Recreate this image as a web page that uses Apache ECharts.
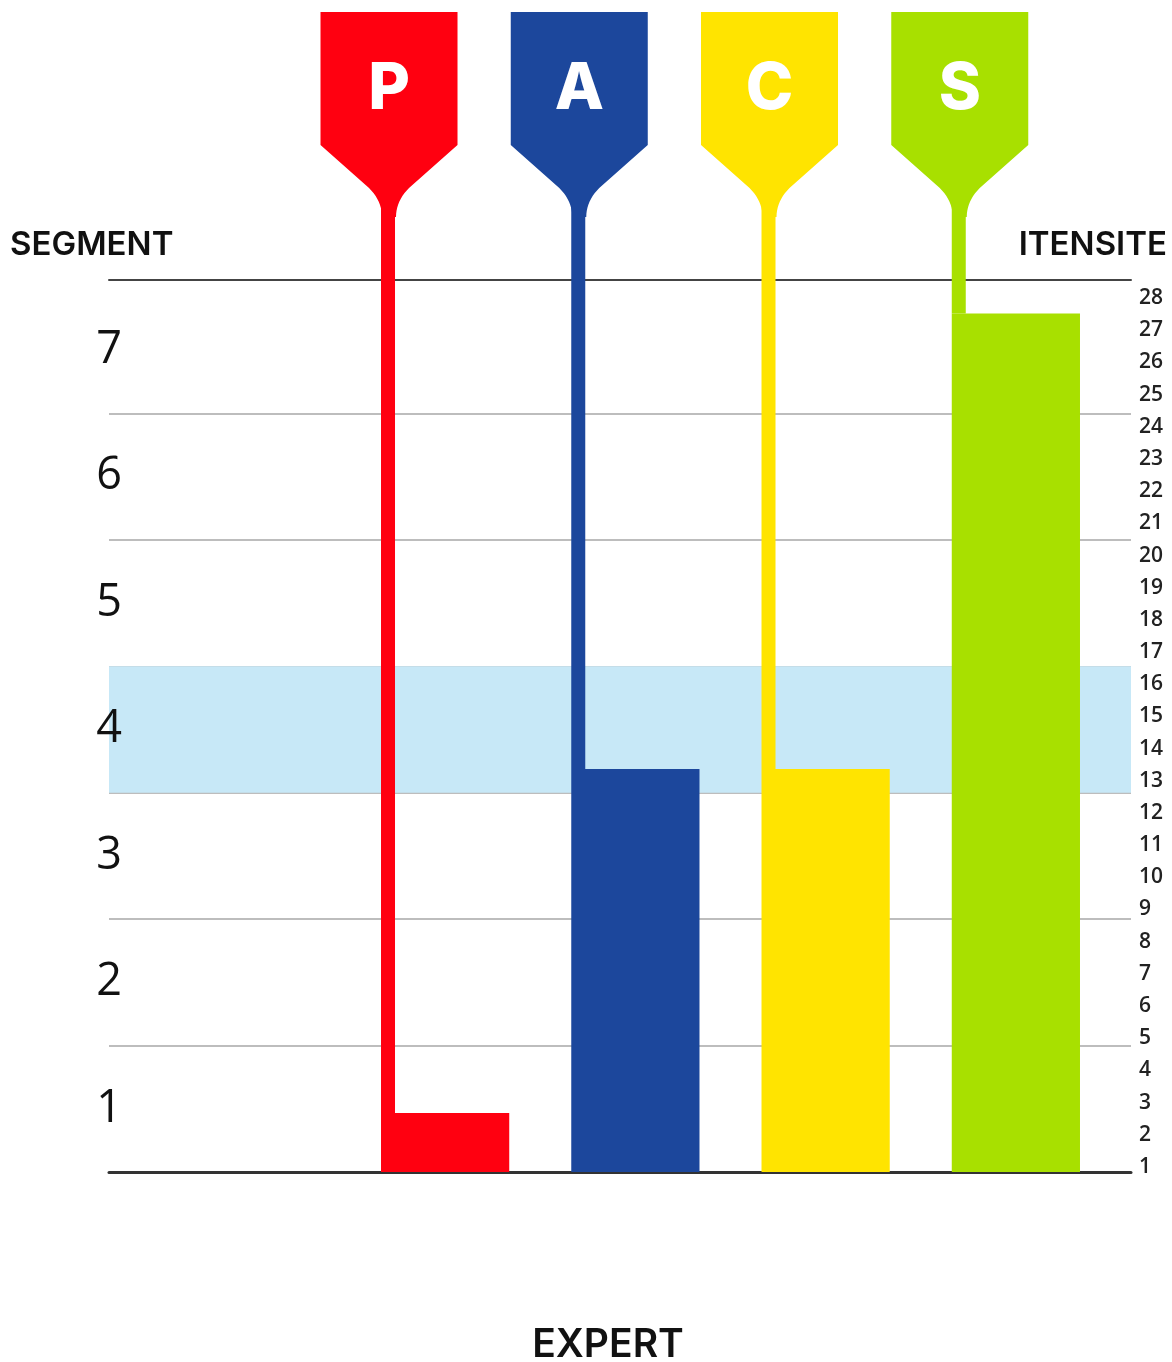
<!DOCTYPE html>
<html><head><meta charset="utf-8">
<script src="https://cdn.jsdelivr.net/npm/echarts@6/dist/echarts.min.js"></script>
<style>html,body{margin:0;padding:0;background:#fff}#c{width:1172px;height:1362px}</style>
</head><body><div id="c"></div>
<script>
const categories = ['P', 'A', 'C', 'S'];
const intensity = [1.85, 12.65, 12.65, 26.95];
const barColors = ['#ff0010', '#1c479c', '#ffe400', '#a8e000'];
const segmentLabels = ['1', '2', '3', '4', '5', '6', '7'];
const intensityLabels = Array.from({length: 28}, (_, i) => String(i + 1));
const highlightSegment = 4;

const chart = echarts.init(document.getElementById('c'));

function renderItem(params, api) {
  const idx = api.value(0);
  const top = api.coord([idx, api.value(1)]);
  const base = api.coord([idx, 0]);
  const band = api.size([1, 0])[0];
  const bw = band * 0.674;
  const left = top[0] - bw / 2;
  const sw = 14;
  const fc = left + sw / 2 + 1;
  const color = barColors[idx];
  const fTop = 12, rBot = 145, hw = 68.5;
  const q = (t) => [
    (1 - t) * (1 - t) * 20 + 2 * (1 - t) * t * 7 + t * t * 7,
    (1 - t) * (1 - t) * (rBot + 43) + 2 * (1 - t) * t * (rBot + 56) + t * t * (rBot + 72)
  ];
  const pts = [[fc - hw, fTop], [fc + hw, fTop], [fc + hw, rBot], [fc + 20, rBot + 43]];
  for (let k = 1; k <= 10; k++) { const p = q(k / 10); pts.push([fc + p[0], p[1]]); }
  for (let k = 10; k >= 0; k--) { const p = q(k / 10); pts.push([fc - p[0], p[1]]); }
  pts.push([fc - hw, rBot]);
  return {
    type: 'group',
    children: [
      {type: 'polygon', shape: {points: pts}, style: {fill: color}},
      {type: 'rect', shape: {x: left, y: rBot + 60, width: sw, height: top[1] - rBot - 60}, style: {fill: color}},
      {type: 'rect', shape: {x: left, y: top[1], width: bw, height: base[1] - top[1]}, style: {fill: color}},
      {type: 'text', style: {text: categories[idx], x: fc, y: 90, align: 'center', verticalAlign: 'middle',
        fill: '#fff', fontSize: 64, fontWeight: 800, fontFamily: 'Inter'}}
    ]
  };
}

chart.setOption({
  animation: false,
  grid: [
    {left: 109, right: 41, top: 280, bottom: 190},
    {left: 109, right: 41, top: 287, bottom: 190},
    {left: 350, right: 61, top: 280, bottom: 190},
    {left: 109, right: 41, top: 282, bottom: 179}
  ],
  xAxis: [
    {gridIndex: 0, type: 'value', position: 'top', min: 0, max: 1, axisLine: {show: true, onZero: false, lineStyle: {color: '#444', width: 2}}, axisTick: {show: false}, axisLabel: {show: false}, splitLine: {show: false}},
    {gridIndex: 0, type: 'value', position: 'bottom', min: 0, max: 1, axisLine: {show: true, onZero: false, lineStyle: {color: '#333', width: 3}}, axisTick: {show: false}, axisLabel: {show: false}, splitLine: {show: false}},
    {gridIndex: 1, type: 'value', min: 0, max: 1, show: false},
    {gridIndex: 2, type: 'category', data: categories, show: false},
    {gridIndex: 3, type: 'value', min: 0, max: 1, show: false}
  ],
  yAxis: [
    {gridIndex: 3, type: 'category', data: intensityLabels, position: 'right', boundaryGap: true,
      axisLine: {show: false}, axisTick: {show: false}, splitLine: {show: false},
      axisLabel: {margin: 8, fontSize: 21, fontFamily: 'Open Sans', fontWeight: 600, color: '#222', interval: 0}},
    {gridIndex: 1, type: 'value', min: 0, max: 7, interval: 1, axisLine: {show: false}, axisTick: {show: false}, axisLabel: {show: false},
      splitLine: {show: true, showMinLine: false, showMaxLine: false, lineStyle: {color: '#bdbdbd', width: 2}}},
    {gridIndex: 1, type: 'category', data: segmentLabels, position: 'left', boundaryGap: true, z: 10,
      axisLine: {show: false}, axisTick: {show: false}, splitLine: {show: false},
      axisLabel: {margin: 0, align: 'center', fontSize: 45, fontFamily: 'Open Sans', color: '#111', interval: 0}},
    {gridIndex: 2, type: 'value', min: 0, max: 28, show: false},
    {gridIndex: 0, type: 'value', min: 0, max: 1, show: false}
  ],
  series: [
    {type: 'line', xAxisIndex: 2, yAxisIndex: 1, data: [], silent: true, z: 1,
      markArea: {silent: true, itemStyle: {color: '#c7e8f7'},
        data: [[{yAxis: highlightSegment - 1}, {yAxis: highlightSegment}]]}},
    {type: 'custom', xAxisIndex: 3, yAxisIndex: 3, renderItem: renderItem, clip: false, z: 5,
      data: categories.map((c, i) => [i, intensity[i]])}
  ],
  graphic: [
    {type: 'text', x: 10, y: 245, style: {text: 'SEGMENT', align: 'left', verticalAlign: 'middle', fontSize: 33, fontWeight: 600, fontFamily: 'Inter', fill: '#111'}},
    {type: 'text', x: 1167, y: 245, style: {text: 'ITENSITE', align: 'right', verticalAlign: 'middle', fontSize: 33, fontWeight: 600, fontFamily: 'Inter', fill: '#111'}},
    {type: 'text', x: 608, y: 1345, style: {text: 'EXPERT', align: 'center', verticalAlign: 'middle', fontSize: 39, fontWeight: 600, fontFamily: 'Inter', fill: '#111'}}
  ]
});
</script></body></html>
